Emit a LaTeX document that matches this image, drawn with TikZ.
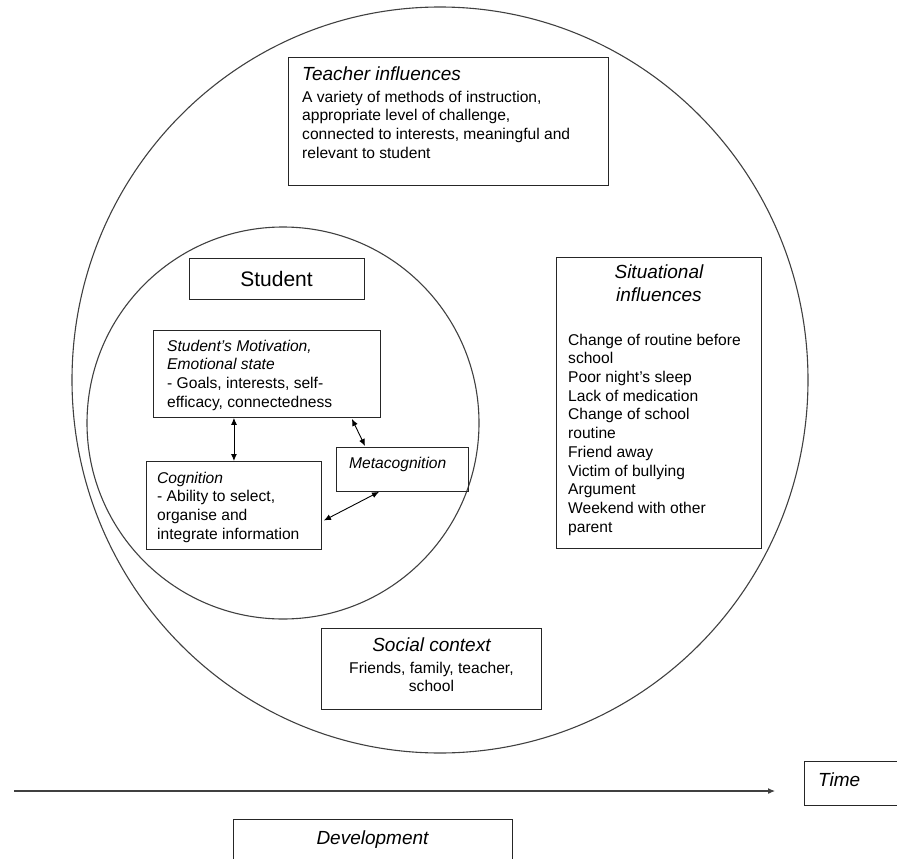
\documentclass[tikz,border=0pt]{standalone}
\usepackage{fontspec}
\setmainfont{Liberation Sans}
\usetikzlibrary{arrows.meta}

\newcommand{\bodyfont}{\fontsize{15.6}{18.7}\selectfont}
\newcommand{\headfont}{\fontsize{19}{23}\selectfont\itshape}

\begin{document}
\begin{tikzpicture}[x=1pt, y=-1pt,
  box/.style={shape=rectangle, draw=black!85, line width=0.9pt, inner sep=0pt, anchor=north west},
  txt/.style={anchor=north west, inner sep=0pt, align=left, font=\bodyfont},
  hd/.style={inner sep=0pt, font=\headfont},
  ring/.style={draw=black!75, line width=1.1pt},
  >={Latex[length=7pt, width=6pt]}]
\useasboundingbox (0,0) rectangle (897,859);
\clip (0,0) rectangle (897,859);

% the two circles
\draw[ring] (440,380) ellipse [x radius=368, y radius=373];
\draw[ring] (283,423) circle [radius=196];

% boxes
\node [box, minimum width=320pt, minimum height=128pt] (teacher) at (288,57) {};
\node [box, minimum width=175pt, minimum height=41pt, anchor=center, font=\fontsize{21}{25}\selectfont] (student) at (276.5,278.5) {Student};
\node [box, minimum width=227pt, minimum height=87pt] (motiv) at (153,330) {};
\node [box, minimum width=175pt, minimum height=88pt] (cogn) at (146,461) {};
\node [box, minimum width=132pt, minimum height=44pt] (meta) at (336,447) {};
\node [box, minimum width=205pt, minimum height=291pt] (situ) at (556,257) {};
\node [box, minimum width=220pt, minimum height=81pt] (social) at (321,628) {};
\node [box, minimum width=130pt, minimum height=44pt] (time) at (804,761) {};
\node [box, minimum width=279pt, minimum height=60pt] (devel) at (233,819) {};

% texts
\node [hd, anchor=base west] (teacherhd) at ([shift={(14,24)}]teacher.north west) {Teacher influences};
\node [txt] (teachertx) at ([shift={(14,33.6)}]teacher.north west) {A variety of methods of instruction,\\appropriate level of challenge,\\connected to interests, meaningful and\\relevant to student};
\node [txt] (motivtx) at ([shift={(14,9.6)}]motiv.north west) {\textit{Student's Motivation,}\\\textit{Emotional state}\\- Goals, interests, self-\\efficacy, connectedness};
\node [txt] (cogntx) at ([shift={(11,10.6)}]cogn.north west) {\textit{Cognition}\\- Ability to select,\\organise and\\integrate information};
\node [txt, anchor=base west] (metatx) at ([shift={(13,21)}]meta.north west) {\textit{Metacognition}};
\node [hd, anchor=north, align=center] (situhd) at ([shift={(0,8)}]situ.north) {Situational\\influences};
\node [txt] (situtx) at ([shift={(12,76.6)}]situ.north west) {Change of routine before\\school\\Poor night's sleep\\Lack of medication\\Change of school\\routine\\Friend away\\Victim of bullying\\Argument\\Weekend with other\\parent};
\node [hd, anchor=base] (socialhd) at ([shift={(0,23)}]social.north) {Social context};
\node [txt, anchor=north, align=center] (socialtx) at ([shift={(0,33.6)}]social.north) {Friends, family, teacher,\\school};
\node [hd, anchor=base west] (timetx) at ([shift={(14,25)}]time.north west) {Time};
\node [hd, anchor=base] (develtx) at ([shift={(139.5,25)}]devel.north west) {Development};

% arrows
\draw[<->, line width=0.9pt] (cogn.north |- motiv.south) -- (cogn.north);
\draw[<->, line width=0.9pt] ([shift={(-29,1)}]motiv.south east) -- ([shift={(29,-1)}]meta.north west);
\draw[<->, line width=0.9pt] ([shift={(2,15)}]cogn.east) -- ([shift={(43,0)}]meta.south west);

% time line
\coordinate (tstart) at (14,791);
\coordinate (tend) at (775,791);
\draw[->, draw=black!75, line width=1.1pt] (tstart) -- (tend);
\end{tikzpicture}
\end{document}
